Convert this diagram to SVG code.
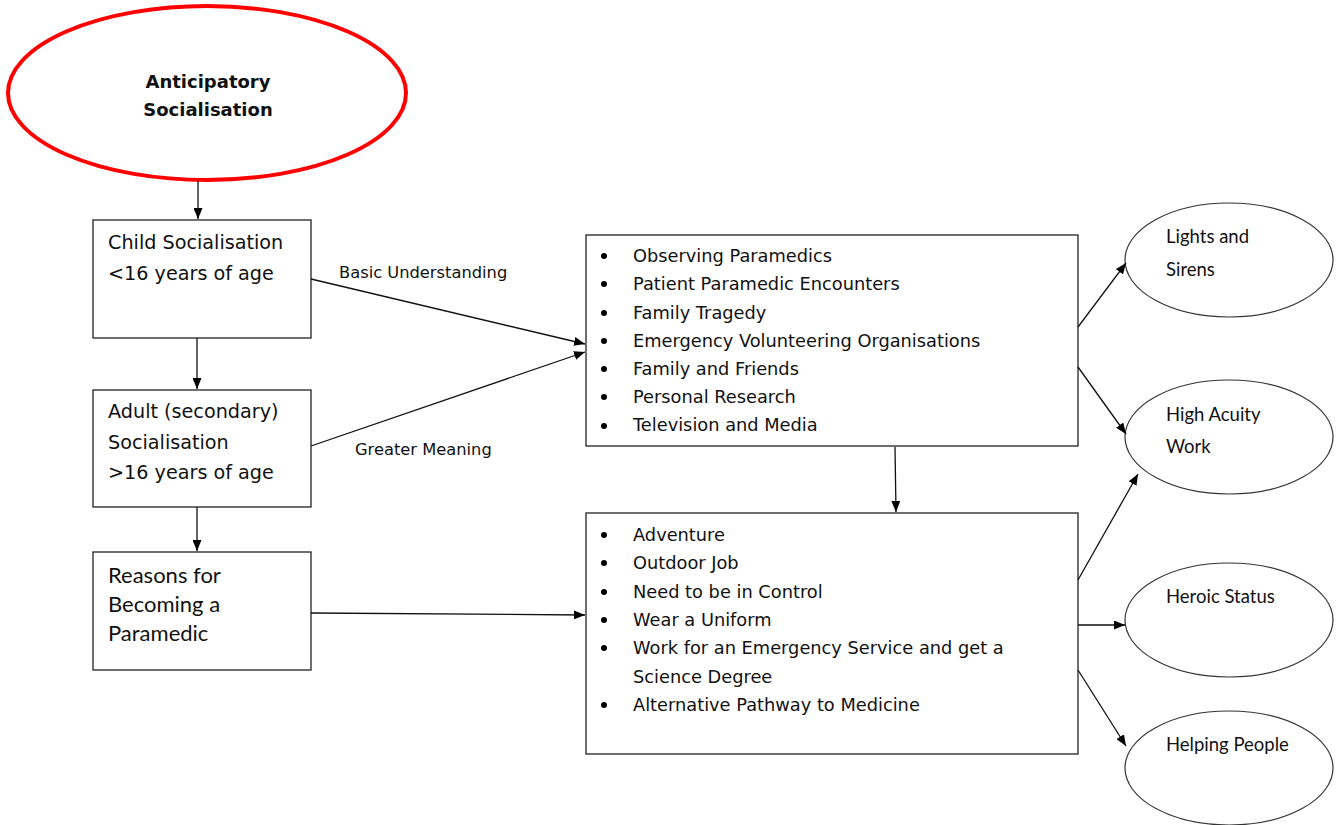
<svg xmlns="http://www.w3.org/2000/svg" width="1343" height="825" viewBox="0 0 1343 825">
  <style>
    .box { fill: #fff; stroke: #222; stroke-width: 1.3; }
    .oval { fill: #fff; stroke: #333; stroke-width: 1.2; }
    .title { font-family: "DejaVu Sans", Verdana, sans-serif; font-weight: bold; font-size: 18px; fill: #111; text-anchor: middle; }
    .head { font-family: "DejaVu Sans", Verdana, sans-serif; font-size: 19.2px; fill: #111; }
    .item { font-family: "DejaVu Sans", Verdana, sans-serif; font-size: 17.8px; fill: #111; }
    .lbl { font-family: "DejaVu Sans", Verdana, sans-serif; font-size: 16.3px; fill: #111; }
    .cal { font-family: Lato, "Open Sans", sans-serif; fill: #111; }
    .conn line { stroke: #111; stroke-width: 1.3; marker-end: url(#arrow); }
  </style>
  <defs>
    <marker id="arrow" markerUnits="userSpaceOnUse" markerWidth="11" markerHeight="9" refX="11" refY="4.5" orient="auto">
      <path d="M0,0 L11,4.5 L0,9 z" fill="#000"/>
    </marker>
  </defs>

  <rect width="1343" height="825" fill="#fff"/>

  <!-- top concept -->
  <g id="anticipatory">
    <ellipse cx="207" cy="93" rx="199" ry="87" fill="#fff" stroke="#f00" stroke-width="4"/>
    <text class="title" x="208" y="88">Anticipatory</text>
    <text class="title" x="208" y="116">Socialisation</text>
  </g>

  <!-- left column -->
  <g id="child">
    <rect class="box" x="93" y="220" width="218" height="118"/>
    <text class="head" x="108" y="249">Child Socialisation</text>
    <text class="head" x="108" y="280">&lt;16 years of age</text>
  </g>
  <g id="adult">
    <rect class="box" x="93" y="390" width="218" height="117"/>
    <text class="head" x="108" y="418">Adult (secondary)</text>
    <text class="head" x="108" y="449">Socialisation</text>
    <text class="head" x="108" y="479">&gt;16 years of age</text>
  </g>
  <g id="reasons">
    <rect class="box" x="93" y="552" width="218" height="118"/>
    <text class="cal" font-size="22" x="108" y="583">Reasons for</text>
    <text class="cal" font-size="22" x="108" y="612">Becoming a</text>
    <text class="cal" font-size="22" x="108" y="641">Paramedic</text>
  </g>

  <!-- influences list -->
  <g id="influences">
    <rect class="box" x="586" y="235" width="492" height="211"/>
    <g fill="#000">
      <circle cx="604" cy="256" r="3"/>
      <circle cx="604" cy="284" r="3"/>
      <circle cx="604" cy="313" r="3"/>
      <circle cx="604" cy="341" r="3"/>
      <circle cx="604" cy="369" r="3"/>
      <circle cx="604" cy="397" r="3"/>
      <circle cx="604" cy="426" r="3"/>
    </g>
    <text class="item" x="633" y="262">Observing Paramedics</text>
    <text class="item" x="633" y="290">Patient Paramedic Encounters</text>
    <text class="item" x="633" y="319">Family Tragedy</text>
    <text class="item" x="633" y="347">Emergency Volunteering Organisations</text>
    <text class="item" x="633" y="375">Family and Friends</text>
    <text class="item" x="633" y="403">Personal Research</text>
    <text class="item" x="633" y="431">Television and Media</text>
  </g>

  <!-- motives list -->
  <g id="motives">
    <rect class="box" x="586" y="513" width="492" height="241"/>
    <g fill="#000">
      <circle cx="604" cy="535" r="3"/>
      <circle cx="604" cy="563" r="3"/>
      <circle cx="604" cy="592" r="3"/>
      <circle cx="604" cy="620" r="3"/>
      <circle cx="604" cy="648" r="3"/>
      <circle cx="604" cy="705" r="3"/>
    </g>
    <text class="item" x="633" y="541">Adventure</text>
    <text class="item" x="633" y="569">Outdoor Job</text>
    <text class="item" x="633" y="598">Need to be in Control</text>
    <text class="item" x="633" y="626">Wear a Uniform</text>
    <text class="item" x="633" y="654">Work for an Emergency Service and get a</text>
    <text class="item" x="633" y="683">Science Degree</text>
    <text class="item" x="633" y="711">Alternative Pathway to Medicine</text>
  </g>

  <!-- outcomes -->
  <g id="lights">
    <ellipse class="oval" cx="1229" cy="260" rx="104" ry="57"/>
    <text class="cal" font-size="18.5" x="1166" y="243">Lights and</text>
    <text class="cal" font-size="18.5" x="1166" y="276">Sirens</text>
  </g>
  <g id="acuity">
    <ellipse class="oval" cx="1229" cy="437" rx="104" ry="57"/>
    <text class="cal" font-size="18.5" x="1166" y="421">High Acuity</text>
    <text class="cal" font-size="18.5" x="1166" y="453">Work</text>
  </g>
  <g id="heroic">
    <ellipse class="oval" cx="1229" cy="620" rx="104" ry="57"/>
    <text class="cal" font-size="18.5" x="1166" y="603">Heroic Status</text>
  </g>
  <g id="helping">
    <ellipse class="oval" cx="1229" cy="768" rx="104" ry="57"/>
    <text class="cal" font-size="18.5" x="1166" y="751">Helping People</text>
  </g>

  <!-- connectors -->
  <g id="connectors" class="conn">
    <line x1="198" y1="181" x2="198" y2="219"/>
    <line x1="197" y1="338" x2="197" y2="389"/>
    <line x1="197" y1="507" x2="197" y2="551"/>
    <line x1="311" y1="279" x2="585" y2="344"/>
    <line x1="311" y1="446" x2="585" y2="352"/>
    <line x1="311" y1="613" x2="585" y2="615"/>
    <line x1="895" y1="447" x2="896" y2="512"/>
    <line x1="1078" y1="327" x2="1126" y2="263"/>
    <line x1="1078" y1="367" x2="1126" y2="434"/>
    <line x1="1078" y1="580" x2="1138" y2="474"/>
    <line x1="1078" y1="625" x2="1125" y2="625"/>
    <line x1="1078" y1="670" x2="1126" y2="746"/>
  </g>

  <!-- connector labels -->
  <g id="labels">
    <text class="lbl" x="339" y="278">Basic Understanding</text>
    <text class="lbl" x="355" y="455">Greater Meaning</text>
  </g>
</svg>
